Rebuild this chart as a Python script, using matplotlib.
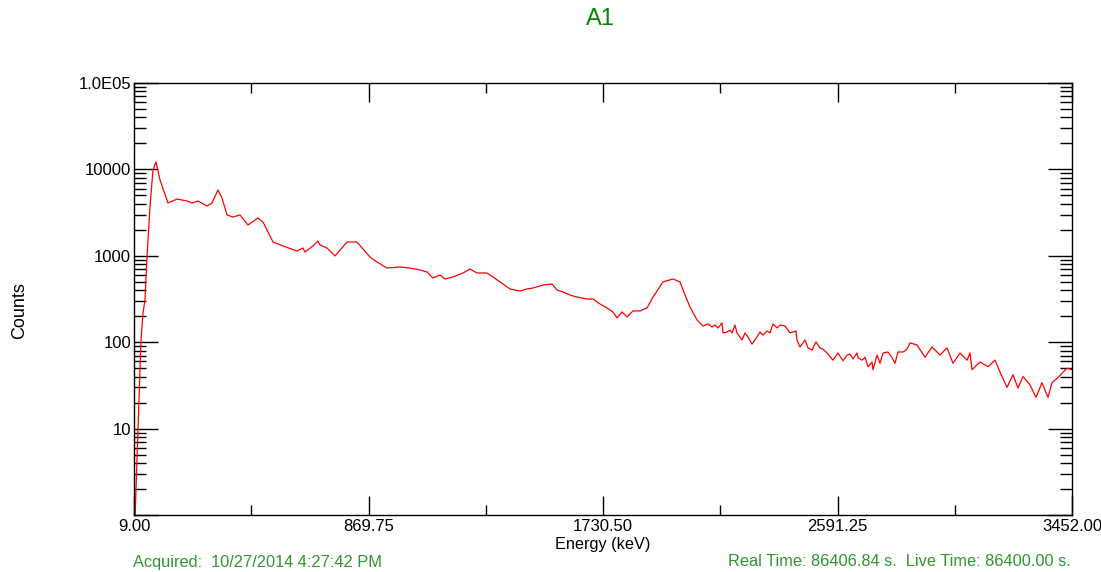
import numpy as np
import matplotlib.pyplot as plt
from matplotlib.ticker import FixedLocator, LogLocator, NullFormatter

# Spectrum (energy in keV, counts)
energy = [12.7, 23.7, 34.7, 42.0, 49.4, 56.7, 67.7, 78.7, 89.8, 104.4,
          133.8, 166.8, 203.5, 221.9, 243.9, 276.9, 295.3, 317.3, 332.0, 350.4,
          372.4, 398.1, 427.5, 464.2, 482.5, 519.2, 555.9, 607.3, 629.3, 636.7,
          666.0, 684.4, 691.7, 717.4, 746.8, 790.8, 827.5, 875.3, 900.9, 937.6,
          985.3, 1022.0, 1058.8, 1084.5, 1106.5, 1132.2, 1150.6, 1180.0, 1216.6, 1242.3,
          1268.0, 1304.7, 1326.7, 1352.4, 1389.1, 1425.8, 1451.5, 1473.5, 1510.2, 1543.3,
          1561.6, 1583.6, 1609.3, 1635.0, 1671.7, 1693.7, 1719.4, 1745.2, 1767.2, 1781.9,
          1800.2, 1818.6, 1840.6, 1866.3, 1892.0, 1914.0, 1950.7, 1987.4, 2013.1, 2031.5,
          2049.8, 2075.5, 2097.5, 2115.9, 2130.6, 2141.6, 2152.6, 2167.3, 2171.0, 2185.6,
          2196.6, 2204.0, 2215.0, 2222.3, 2240.7, 2251.7, 2262.8, 2277.5, 2295.8, 2306.8,
          2317.8, 2332.5, 2343.5, 2354.5, 2369.2, 2380.2, 2398.6, 2416.9, 2438.9, 2442.6,
          2453.6, 2472.0, 2483.0, 2497.7, 2512.3, 2527.0, 2538.0, 2552.7, 2574.7, 2593.1,
          2611.4, 2626.1, 2637.1, 2648.1, 2662.8, 2666.5, 2681.2, 2692.2, 2703.2, 2717.9,
          2721.6, 2736.3, 2747.3, 2758.3, 2776.7, 2791.4, 2802.4, 2813.3, 2831.7, 2846.4,
          2857.4, 2883.1, 2912.4, 2938.1, 2967.5, 2993.2, 3015.2, 3040.9, 3066.6, 3077.6,
          3085.0, 3114.3, 3143.7, 3169.4, 3187.7, 3213.4, 3235.4, 3253.8, 3272.2, 3297.9,
          3319.9, 3341.9, 3363.9, 3378.6, 3400.6, 3419.0, 3433.7, 3452.0]
counts = [0.9, 9.6, 106, 218, 308, 968, 3670, 9840, 12190, 7540,
          4080, 4540, 4310, 4080, 4310, 3770, 4080, 5780, 4670, 2970,
          2810, 2970, 2270, 2740, 2460, 1445, 1300, 1137, 1231, 1107,
          1300, 1483, 1334, 1231, 995, 1445, 1445, 968, 848, 722,
          742, 722, 685, 650, 554, 600, 539, 569, 632, 703,
          632, 632, 569, 498, 413, 391, 413, 424, 459, 472,
          402, 381, 352, 333, 316, 316, 277, 249, 224, 191,
          224, 196, 230, 230, 249, 333, 498, 539, 498, 352,
          256, 181, 154, 163, 150, 158, 146, 167, 128, 131,
          138, 128, 158, 128, 106, 128, 115, 95, 115, 131,
          121, 135, 128, 163, 146, 158, 154, 128, 135, 106,
          88, 106, 86, 81, 101, 86, 83, 75, 62, 75,
          61, 71, 73, 64, 75, 66, 62, 67, 52, 59,
          48, 71, 57, 75, 77, 66, 57, 77, 77, 83,
          98, 93, 67, 88, 71, 86, 57, 75, 62, 75,
          48, 59, 52, 62, 45, 30, 42, 29.5, 40, 32,
          23, 34, 23, 34, 39, 45, 50, 48]

x_major = [9.00, 869.75, 1730.50, 2591.25, 3452.00]
x_labels = ['9.00', '869.75', '1730.50', '2591.25', '3452.00']
y_major = [1, 10, 100, 1000, 10000, 100000]
y_labels = ['', '10', '100', '1000', '10000', '1.0E05']

plt.rcParams['font.family'] = ['Liberation Sans', 'DejaVu Sans']

fig = plt.figure(figsize=(11.01, 5.72), dpi=100)
ax = fig.add_axes([134 / 1101, 1 - 515 / 572, 938 / 1101, 432 / 572])

ax.plot(energy, counts, color='#ff0000', lw=0.9)

ax.set_yscale('log')
ax.set_xlim(9, 3452)
ax.set_ylim(1, 1e5)

x_minor = [(a + b) / 2 for a, b in zip(x_major[:-1], x_major[1:])]
ax.xaxis.set_major_locator(FixedLocator(x_major))
ax.xaxis.set_minor_locator(FixedLocator(x_minor))
ax.set_xticklabels(x_labels)
ax.yaxis.set_major_locator(FixedLocator(y_major))
ax.yaxis.set_minor_locator(LogLocator(base=10, subs=np.arange(2, 10)))
ax.yaxis.set_minor_formatter(NullFormatter())
ax.set_yticklabels(y_labels)

ax.tick_params(axis='x', which='both', direction='in', top=True, bottom=True,
               labelsize=12, pad=3, colors='black')
ax.tick_params(axis='x', which='major', length=14, width=1)
ax.tick_params(axis='x', which='minor', length=7, width=1)
ax.tick_params(axis='y', which='both', direction='in', left=True, right=True,
               labelsize=12, pad=2)
ax.tick_params(axis='y', which='major', length=17, width=1)
ax.tick_params(axis='y', which='minor', length=8.5, width=1)
for s in ax.spines.values():
    s.set_linewidth(1)

fig.text(603 / 1101, 1 - 545 / 572, 'Energy (keV)', ha='center', va='center', fontsize=11.7)
fig.text(20 / 1101, 1 - 311 / 572, 'Counts', ha='center', va='center',
         rotation=90, fontsize=13)
fig.text(600 / 1101, 1 - 19 / 572, 'A1', ha='center', va='center', fontsize=17,
         color='#008800')
green = '#2e962e'
fig.text(133 / 1101, 1 - 562 / 572, 'Acquired:  10/27/2014 4:27:42 PM', ha='left',
         va='center', fontsize=11.8, color=green)
fig.text(1071 / 1101, 1 - 562 / 572, 'Real Time: 86406.84 s.  Live Time: 86400.00 s.',
         ha='right', va='center', fontsize=11.8, color=green)

fig.savefig('out.png', dpi=100)
